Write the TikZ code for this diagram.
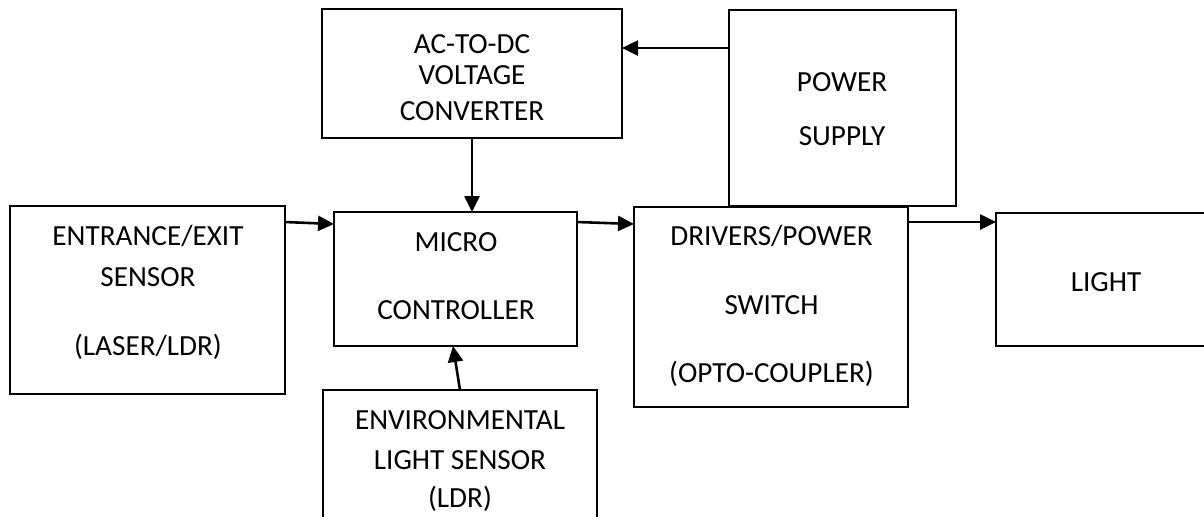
\documentclass[tikz,border=0pt]{standalone}
\usepackage{fontspec}
\setmainfont{Carlito}
\usetikzlibrary{arrows.meta}
\begin{document}
\begin{tikzpicture}[x=0.5pt,y=-0.5pt,
  box/.style={draw, line width=1.1pt, rectangle, inner sep=0pt, outer sep=0pt},
  lbl/.style={anchor=base, inner sep=0pt, font=\fontsize{14.6}{17}\selectfont},
  arr/.style={line width=1.3pt, -{Triangle[length=8pt,width=7.5pt]}}]
\useasboundingbox (0,0) rectangle (1204,516);
\clip (0,0) rectangle (1204,516);
% boxes
\node[box, minimum width=150pt, minimum height=64.5pt] (ac) at (472,73.5) {};
\node[box, minimum width=113.5pt, minimum height=98pt] (ps) at (842.5,108) {};
\node[box, minimum width=137.5pt, minimum height=94pt] (ent) at (147.5,300) {};
\node[box, minimum width=121.5pt, minimum height=67pt] (micro) at (455.5,279) {};
\node[box, minimum width=137pt, minimum height=100pt] (drv) at (771,307) {};
\node[box, minimum width=109pt, minimum height=66.5pt] (light) at (1105,279.5) {};
\node[box, minimum width=137pt, minimum height=85pt] (env) at (460,475) {};
% labels
\node[lbl] (ac1) at (472,53.3) {AC-TO-DC};
\node[lbl] (ac2) at (472,84.8) {VOLTAGE};
\node[lbl] (ac3) at (472,120.3) {CONVERTER};
\node[lbl] (ps1) at (842,91.8) {POWER};
\node[lbl] (ps2) at (842,145.3) {SUPPLY};
\node[lbl] (ent1) at (148,245.1) {ENTRANCE/EXIT};
\node[lbl] (ent2) at (148,286.8) {SENSOR};
\node[lbl] (ent3) at (148,355) {(LASER/LDR)};
\node[lbl] (mc1) at (456,251.6) {MICRO};
\node[lbl] (mc2) at (456,319.6) {CONTROLLER};
\node[lbl] (dr1) at (771.5,245.1) {DRIVERS/POWER};
\node[lbl] (dr2) at (771.5,314) {SWITCH};
\node[lbl] (dr3) at (771.5,382.3) {(OPTO-COUPLER)};
\node[lbl] (lt1) at (1106,291) {LIGHT};
\node[lbl] (en1) at (460,429.6) {ENVIRONMENTAL};
\node[lbl] (en2) at (460,469.8) {LIGHT SENSOR};
\node[lbl] (en3) at (460,507.3) {(LDR)};
% connectors
\draw[arr] ([yshift=30pt]ps.west) coordinate (t1) -- (ac.east |- t1);
\draw[arr] (ac.south) -- (ac.south |- micro.north);
\draw[arr] ([yshift=39pt]ent.east) -- ([yshift=27.5pt]micro.west);
\draw[arr] ([yshift=28.5pt]micro.east) -- ([yshift=41.5pt]drv.west);
\draw[arr] ([yshift=42.5pt]drv.east) coordinate (t2) -- (light.west |- t2);
\draw[arr] (env.north) -- ([xshift=-1.25pt]micro.south);
\end{tikzpicture}
\end{document}
